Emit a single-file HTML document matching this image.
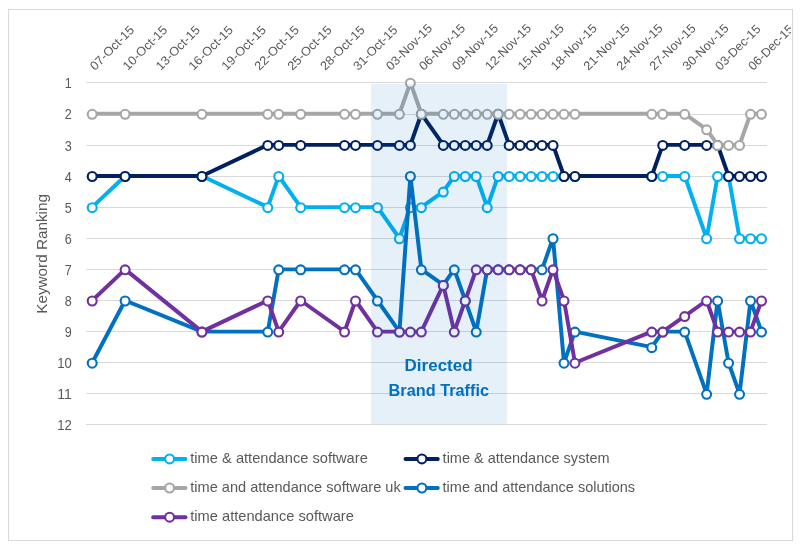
<!DOCTYPE html>
<html lang="en"><head><meta charset="utf-8"><title>Keyword Ranking</title>
<style>html,body{margin:0;padding:0;background:#fff}body{width:805px;height:550px;overflow:hidden}svg{display:block}text{font-family:"Liberation Sans",sans-serif}</style>
</head><body>
<svg width="805" height="550" viewBox="0 0 805 550">
<rect x="0" y="0" width="805" height="550" fill="#ffffff"/>
<defs><clipPath id="ca"><rect x="9" y="10" width="782" height="530"/></clipPath></defs>
<rect x="8.5" y="9.5" width="784" height="531" fill="#ffffff" stroke="#d9d9d9" stroke-width="1"/>
<g stroke="#d9d9d9" stroke-width="1" shape-rendering="crispEdges">
<line x1="86" y1="82.5" x2="767" y2="82.5"/>
<line x1="86" y1="114.0" x2="767" y2="114.0"/>
<line x1="86" y1="145.5" x2="767" y2="145.5"/>
<line x1="86" y1="176.5" x2="767" y2="176.5"/>
<line x1="86" y1="207.5" x2="767" y2="207.5"/>
<line x1="86" y1="238.5" x2="767" y2="238.5"/>
<line x1="86" y1="269.5" x2="767" y2="269.5"/>
<line x1="86" y1="300.5" x2="767" y2="300.5"/>
<line x1="86" y1="331.5" x2="767" y2="331.5"/>
<line x1="86" y1="362.5" x2="767" y2="362.5"/>
<line x1="86" y1="393.5" x2="767" y2="393.5"/>
<line x1="86" y1="424.5" x2="767" y2="424.5"/>
</g>
<g fill="#595959" font-size="14.6" text-anchor="end">
<text x="71.8" y="87.5" textLength="7.0" lengthAdjust="spacingAndGlyphs">1</text>
<text x="71.8" y="119.0" textLength="7.0" lengthAdjust="spacingAndGlyphs">2</text>
<text x="71.8" y="150.5" textLength="7.0" lengthAdjust="spacingAndGlyphs">3</text>
<text x="71.8" y="181.5" textLength="7.0" lengthAdjust="spacingAndGlyphs">4</text>
<text x="71.8" y="212.5" textLength="7.0" lengthAdjust="spacingAndGlyphs">5</text>
<text x="71.8" y="243.5" textLength="7.0" lengthAdjust="spacingAndGlyphs">6</text>
<text x="71.8" y="274.5" textLength="7.0" lengthAdjust="spacingAndGlyphs">7</text>
<text x="71.8" y="305.5" textLength="7.0" lengthAdjust="spacingAndGlyphs">8</text>
<text x="71.8" y="336.5" textLength="7.0" lengthAdjust="spacingAndGlyphs">9</text>
<text x="71.8" y="367.5" textLength="14.6" lengthAdjust="spacingAndGlyphs">10</text>
<text x="71.8" y="398.5" textLength="14.6" lengthAdjust="spacingAndGlyphs">11</text>
<text x="71.8" y="429.5" textLength="14.6" lengthAdjust="spacingAndGlyphs">12</text>
</g>
<text transform="translate(46.8,313.8) rotate(-90)" fill="#595959" font-size="14.6" textLength="119.8" lengthAdjust="spacingAndGlyphs">Keyword Ranking</text>
<g fill="#595959" font-size="12.4" clip-path="url(#ca)">
<text transform="translate(94.9,70.9) rotate(-45)" textLength="56.8" lengthAdjust="spacingAndGlyphs">07-Oct-15</text>
<text transform="translate(127.8,70.9) rotate(-45)" textLength="56.8" lengthAdjust="spacingAndGlyphs">10-Oct-15</text>
<text transform="translate(160.7,70.9) rotate(-45)" textLength="56.8" lengthAdjust="spacingAndGlyphs">13-Oct-15</text>
<text transform="translate(193.6,70.9) rotate(-45)" textLength="56.8" lengthAdjust="spacingAndGlyphs">16-Oct-15</text>
<text transform="translate(226.6,70.9) rotate(-45)" textLength="56.8" lengthAdjust="spacingAndGlyphs">19-Oct-15</text>
<text transform="translate(259.5,70.9) rotate(-45)" textLength="56.8" lengthAdjust="spacingAndGlyphs">22-Oct-15</text>
<text transform="translate(292.4,70.9) rotate(-45)" textLength="56.8" lengthAdjust="spacingAndGlyphs">25-Oct-15</text>
<text transform="translate(325.3,70.9) rotate(-45)" textLength="56.8" lengthAdjust="spacingAndGlyphs">28-Oct-15</text>
<text transform="translate(358.2,70.9) rotate(-45)" textLength="56.8" lengthAdjust="spacingAndGlyphs">31-Oct-15</text>
<text transform="translate(391.1,70.9) rotate(-45)" textLength="59.4" lengthAdjust="spacingAndGlyphs">03-Nov-15</text>
<text transform="translate(424.1,70.9) rotate(-45)" textLength="59.4" lengthAdjust="spacingAndGlyphs">06-Nov-15</text>
<text transform="translate(457.0,70.9) rotate(-45)" textLength="59.4" lengthAdjust="spacingAndGlyphs">09-Nov-15</text>
<text transform="translate(489.9,70.9) rotate(-45)" textLength="59.4" lengthAdjust="spacingAndGlyphs">12-Nov-15</text>
<text transform="translate(522.8,70.9) rotate(-45)" textLength="59.4" lengthAdjust="spacingAndGlyphs">15-Nov-15</text>
<text transform="translate(555.7,70.9) rotate(-45)" textLength="59.4" lengthAdjust="spacingAndGlyphs">18-Nov-15</text>
<text transform="translate(588.6,70.9) rotate(-45)" textLength="59.4" lengthAdjust="spacingAndGlyphs">21-Nov-15</text>
<text transform="translate(621.6,70.9) rotate(-45)" textLength="59.4" lengthAdjust="spacingAndGlyphs">24-Nov-15</text>
<text transform="translate(654.5,70.9) rotate(-45)" textLength="59.4" lengthAdjust="spacingAndGlyphs">27-Nov-15</text>
<text transform="translate(687.4,70.9) rotate(-45)" textLength="59.4" lengthAdjust="spacingAndGlyphs">30-Nov-15</text>
<text transform="translate(720.3,70.9) rotate(-45)" textLength="58.0" lengthAdjust="spacingAndGlyphs">03-Dec-15</text>
<text transform="translate(753.2,70.9) rotate(-45)" textLength="58.0" lengthAdjust="spacingAndGlyphs">06-Dec-15</text>
</g>
<g stroke="#00B0F0">
<polyline transform="translate(0,-0.5)" points="92.2,207.63 125.12,176.51 201.92,176.51 267.75,207.63 278.72,176.51 300.67,207.63 344.56,207.63 355.53,207.63 377.47,207.63 399.42,238.75 410.39,207.63 421.36,207.63 443.3,192.07 454.28,176.51 465.25,176.51 476.22,176.51 487.19,207.63 498.16,176.51 509.14,176.51 520.11,176.51 531.08,176.51 542.05,176.51 553.02,176.51 564.0,176.51 574.97,176.51 651.77,176.51 662.74,176.51 684.69,176.51 706.63,238.75 717.6,176.51 728.58,176.51 739.55,238.75 750.52,238.75 761.49,238.75" fill="none" stroke-width="3.95" stroke-linejoin="round" stroke-linecap="round"/>
<g fill="#ffffff" stroke-width="2.1">
<circle cx="92.2" cy="207.63" r="4.45"/>
<circle cx="125.12" cy="176.51" r="4.45"/>
<circle cx="201.92" cy="176.51" r="4.45"/>
<circle cx="267.75" cy="207.63" r="4.45"/>
<circle cx="278.72" cy="176.51" r="4.45"/>
<circle cx="300.67" cy="207.63" r="4.45"/>
<circle cx="344.56" cy="207.63" r="4.45"/>
<circle cx="355.53" cy="207.63" r="4.45"/>
<circle cx="377.47" cy="207.63" r="4.45"/>
<circle cx="399.42" cy="238.75" r="4.45"/>
<circle cx="410.39" cy="207.63" r="4.45"/>
<circle cx="421.36" cy="207.63" r="4.45"/>
<circle cx="443.3" cy="192.07" r="4.45"/>
<circle cx="454.28" cy="176.51" r="4.45"/>
<circle cx="465.25" cy="176.51" r="4.45"/>
<circle cx="476.22" cy="176.51" r="4.45"/>
<circle cx="487.19" cy="207.63" r="4.45"/>
<circle cx="498.16" cy="176.51" r="4.45"/>
<circle cx="509.14" cy="176.51" r="4.45"/>
<circle cx="520.11" cy="176.51" r="4.45"/>
<circle cx="531.08" cy="176.51" r="4.45"/>
<circle cx="542.05" cy="176.51" r="4.45"/>
<circle cx="553.02" cy="176.51" r="4.45"/>
<circle cx="564.0" cy="176.51" r="4.45"/>
<circle cx="574.97" cy="176.51" r="4.45"/>
<circle cx="651.77" cy="176.51" r="4.45"/>
<circle cx="662.74" cy="176.51" r="4.45"/>
<circle cx="684.69" cy="176.51" r="4.45"/>
<circle cx="706.63" cy="238.75" r="4.45"/>
<circle cx="717.6" cy="176.51" r="4.45"/>
<circle cx="728.58" cy="176.51" r="4.45"/>
<circle cx="739.55" cy="238.75" r="4.45"/>
<circle cx="750.52" cy="238.75" r="4.45"/>
<circle cx="761.49" cy="238.75" r="4.45"/>
</g></g>
<g stroke="#002060">
<polyline transform="translate(0,-0.5)" points="92.2,176.51 125.12,176.51 201.92,176.51 267.75,145.39 278.72,145.39 300.67,145.39 344.56,145.39 355.53,145.39 377.47,145.39 399.42,145.39 410.39,145.39 421.36,114.27 443.3,145.39 454.28,145.39 465.25,145.39 476.22,145.39 487.19,145.39 498.16,114.27 509.14,145.39 520.11,145.39 531.08,145.39 542.05,145.39 553.02,145.39 564.0,176.51 574.97,176.51 651.77,176.51 662.74,145.39 684.69,145.39 706.63,145.39 717.6,145.39 728.58,176.51 739.55,176.51 750.52,176.51 761.49,176.51" fill="none" stroke-width="3.95" stroke-linejoin="round" stroke-linecap="round"/>
<g fill="#ffffff" stroke-width="2.1">
<circle cx="92.2" cy="176.51" r="4.45"/>
<circle cx="125.12" cy="176.51" r="4.45"/>
<circle cx="201.92" cy="176.51" r="4.45"/>
<circle cx="267.75" cy="145.39" r="4.45"/>
<circle cx="278.72" cy="145.39" r="4.45"/>
<circle cx="300.67" cy="145.39" r="4.45"/>
<circle cx="344.56" cy="145.39" r="4.45"/>
<circle cx="355.53" cy="145.39" r="4.45"/>
<circle cx="377.47" cy="145.39" r="4.45"/>
<circle cx="399.42" cy="145.39" r="4.45"/>
<circle cx="410.39" cy="145.39" r="4.45"/>
<circle cx="421.36" cy="114.27" r="4.45"/>
<circle cx="443.3" cy="145.39" r="4.45"/>
<circle cx="454.28" cy="145.39" r="4.45"/>
<circle cx="465.25" cy="145.39" r="4.45"/>
<circle cx="476.22" cy="145.39" r="4.45"/>
<circle cx="487.19" cy="145.39" r="4.45"/>
<circle cx="498.16" cy="114.27" r="4.45"/>
<circle cx="509.14" cy="145.39" r="4.45"/>
<circle cx="520.11" cy="145.39" r="4.45"/>
<circle cx="531.08" cy="145.39" r="4.45"/>
<circle cx="542.05" cy="145.39" r="4.45"/>
<circle cx="553.02" cy="145.39" r="4.45"/>
<circle cx="564.0" cy="176.51" r="4.45"/>
<circle cx="574.97" cy="176.51" r="4.45"/>
<circle cx="651.77" cy="176.51" r="4.45"/>
<circle cx="662.74" cy="145.39" r="4.45"/>
<circle cx="684.69" cy="145.39" r="4.45"/>
<circle cx="706.63" cy="145.39" r="4.45"/>
<circle cx="717.6" cy="145.39" r="4.45"/>
<circle cx="728.58" cy="176.51" r="4.45"/>
<circle cx="739.55" cy="176.51" r="4.45"/>
<circle cx="750.52" cy="176.51" r="4.45"/>
<circle cx="761.49" cy="176.51" r="4.45"/>
</g></g>
<g stroke="#A6A6A6">
<polyline transform="translate(0,-0.5)" points="92.2,114.27 125.12,114.27 201.92,114.27 267.75,114.27 278.72,114.27 300.67,114.27 344.56,114.27 355.53,114.27 377.47,114.27 399.42,114.27 410.39,83.15 421.36,114.27 443.3,114.27 454.28,114.27 465.25,114.27 476.22,114.27 487.19,114.27 498.16,114.27 509.14,114.27 520.11,114.27 531.08,114.27 542.05,114.27 553.02,114.27 564.0,114.27 574.97,114.27 651.77,114.27 662.74,114.27 684.69,114.27 706.63,129.83 717.6,145.39 728.58,145.39 739.55,145.39 750.52,114.27 761.49,114.27" fill="none" stroke-width="3.95" stroke-linejoin="round" stroke-linecap="round"/>
<g fill="#ffffff" stroke-width="2.1">
<circle cx="92.2" cy="114.27" r="4.45"/>
<circle cx="125.12" cy="114.27" r="4.45"/>
<circle cx="201.92" cy="114.27" r="4.45"/>
<circle cx="267.75" cy="114.27" r="4.45"/>
<circle cx="278.72" cy="114.27" r="4.45"/>
<circle cx="300.67" cy="114.27" r="4.45"/>
<circle cx="344.56" cy="114.27" r="4.45"/>
<circle cx="355.53" cy="114.27" r="4.45"/>
<circle cx="377.47" cy="114.27" r="4.45"/>
<circle cx="399.42" cy="114.27" r="4.45"/>
<circle cx="410.39" cy="83.15" r="4.45"/>
<circle cx="421.36" cy="114.27" r="4.45"/>
<circle cx="443.3" cy="114.27" r="4.45"/>
<circle cx="454.28" cy="114.27" r="4.45"/>
<circle cx="465.25" cy="114.27" r="4.45"/>
<circle cx="476.22" cy="114.27" r="4.45"/>
<circle cx="487.19" cy="114.27" r="4.45"/>
<circle cx="498.16" cy="114.27" r="4.45"/>
<circle cx="509.14" cy="114.27" r="4.45"/>
<circle cx="520.11" cy="114.27" r="4.45"/>
<circle cx="531.08" cy="114.27" r="4.45"/>
<circle cx="542.05" cy="114.27" r="4.45"/>
<circle cx="553.02" cy="114.27" r="4.45"/>
<circle cx="564.0" cy="114.27" r="4.45"/>
<circle cx="574.97" cy="114.27" r="4.45"/>
<circle cx="651.77" cy="114.27" r="4.45"/>
<circle cx="662.74" cy="114.27" r="4.45"/>
<circle cx="684.69" cy="114.27" r="4.45"/>
<circle cx="706.63" cy="129.83" r="4.45"/>
<circle cx="717.6" cy="145.39" r="4.45"/>
<circle cx="728.58" cy="145.39" r="4.45"/>
<circle cx="739.55" cy="145.39" r="4.45"/>
<circle cx="750.52" cy="114.27" r="4.45"/>
<circle cx="761.49" cy="114.27" r="4.45"/>
</g></g>
<g stroke="#0070C0">
<polyline transform="translate(0,-0.5)" points="92.2,363.23 125.12,300.99 201.92,332.11 267.75,332.11 278.72,269.87 300.67,269.87 344.56,269.87 355.53,269.87 377.47,300.99 399.42,332.11 410.39,176.51 421.36,269.87 443.3,285.43 454.28,269.87 465.25,300.99 476.22,332.11 487.19,269.87 498.16,269.87 509.14,269.87 520.11,269.87 531.08,269.87 542.05,269.87 553.02,238.75 564.0,363.23 574.97,332.11 651.77,347.67 662.74,332.11 684.69,332.11 706.63,394.35 717.6,300.99 728.58,363.23 739.55,394.35 750.52,300.99 761.49,332.11" fill="none" stroke-width="3.95" stroke-linejoin="round" stroke-linecap="round"/>
<g fill="#ffffff" stroke-width="2.1">
<circle cx="92.2" cy="363.23" r="4.45"/>
<circle cx="125.12" cy="300.99" r="4.45"/>
<circle cx="201.92" cy="332.11" r="4.45"/>
<circle cx="267.75" cy="332.11" r="4.45"/>
<circle cx="278.72" cy="269.87" r="4.45"/>
<circle cx="300.67" cy="269.87" r="4.45"/>
<circle cx="344.56" cy="269.87" r="4.45"/>
<circle cx="355.53" cy="269.87" r="4.45"/>
<circle cx="377.47" cy="300.99" r="4.45"/>
<circle cx="399.42" cy="332.11" r="4.45"/>
<circle cx="410.39" cy="176.51" r="4.45"/>
<circle cx="421.36" cy="269.87" r="4.45"/>
<circle cx="443.3" cy="285.43" r="4.45"/>
<circle cx="454.28" cy="269.87" r="4.45"/>
<circle cx="465.25" cy="300.99" r="4.45"/>
<circle cx="476.22" cy="332.11" r="4.45"/>
<circle cx="487.19" cy="269.87" r="4.45"/>
<circle cx="498.16" cy="269.87" r="4.45"/>
<circle cx="509.14" cy="269.87" r="4.45"/>
<circle cx="520.11" cy="269.87" r="4.45"/>
<circle cx="531.08" cy="269.87" r="4.45"/>
<circle cx="542.05" cy="269.87" r="4.45"/>
<circle cx="553.02" cy="238.75" r="4.45"/>
<circle cx="564.0" cy="363.23" r="4.45"/>
<circle cx="574.97" cy="332.11" r="4.45"/>
<circle cx="651.77" cy="347.67" r="4.45"/>
<circle cx="662.74" cy="332.11" r="4.45"/>
<circle cx="684.69" cy="332.11" r="4.45"/>
<circle cx="706.63" cy="394.35" r="4.45"/>
<circle cx="717.6" cy="300.99" r="4.45"/>
<circle cx="728.58" cy="363.23" r="4.45"/>
<circle cx="739.55" cy="394.35" r="4.45"/>
<circle cx="750.52" cy="300.99" r="4.45"/>
<circle cx="761.49" cy="332.11" r="4.45"/>
</g></g>
<g stroke="#7030A0">
<polyline transform="translate(0,-0.5)" points="92.2,300.99 125.12,269.87 201.92,332.11 267.75,300.99 278.72,332.11 300.67,300.99 344.56,332.11 355.53,300.99 377.47,332.11 399.42,332.11 410.39,332.11 421.36,332.11 443.3,285.43 454.28,332.11 465.25,300.99 476.22,269.87 487.19,269.87 498.16,269.87 509.14,269.87 520.11,269.87 531.08,269.87 542.05,300.99 553.02,269.87 564.0,300.99 574.97,363.23 651.77,332.11 662.74,332.11 684.69,316.55 706.63,300.99 717.6,332.11 728.58,332.11 739.55,332.11 750.52,332.11 761.49,300.99" fill="none" stroke-width="3.95" stroke-linejoin="round" stroke-linecap="round"/>
<g fill="#ffffff" stroke-width="2.1">
<circle cx="92.2" cy="300.99" r="4.45"/>
<circle cx="125.12" cy="269.87" r="4.45"/>
<circle cx="201.92" cy="332.11" r="4.45"/>
<circle cx="267.75" cy="300.99" r="4.45"/>
<circle cx="278.72" cy="332.11" r="4.45"/>
<circle cx="300.67" cy="300.99" r="4.45"/>
<circle cx="344.56" cy="332.11" r="4.45"/>
<circle cx="355.53" cy="300.99" r="4.45"/>
<circle cx="377.47" cy="332.11" r="4.45"/>
<circle cx="399.42" cy="332.11" r="4.45"/>
<circle cx="410.39" cy="332.11" r="4.45"/>
<circle cx="421.36" cy="332.11" r="4.45"/>
<circle cx="443.3" cy="285.43" r="4.45"/>
<circle cx="454.28" cy="332.11" r="4.45"/>
<circle cx="465.25" cy="300.99" r="4.45"/>
<circle cx="476.22" cy="269.87" r="4.45"/>
<circle cx="487.19" cy="269.87" r="4.45"/>
<circle cx="498.16" cy="269.87" r="4.45"/>
<circle cx="509.14" cy="269.87" r="4.45"/>
<circle cx="520.11" cy="269.87" r="4.45"/>
<circle cx="531.08" cy="269.87" r="4.45"/>
<circle cx="542.05" cy="300.99" r="4.45"/>
<circle cx="553.02" cy="269.87" r="4.45"/>
<circle cx="564.0" cy="300.99" r="4.45"/>
<circle cx="574.97" cy="363.23" r="4.45"/>
<circle cx="651.77" cy="332.11" r="4.45"/>
<circle cx="662.74" cy="332.11" r="4.45"/>
<circle cx="684.69" cy="316.55" r="4.45"/>
<circle cx="706.63" cy="300.99" r="4.45"/>
<circle cx="717.6" cy="332.11" r="4.45"/>
<circle cx="728.58" cy="332.11" r="4.45"/>
<circle cx="739.55" cy="332.11" r="4.45"/>
<circle cx="750.52" cy="332.11" r="4.45"/>
<circle cx="761.49" cy="300.99" r="4.45"/>
</g></g>
<rect x="371" y="84" width="136" height="340" fill="#0070C0" fill-opacity="0.10"/>
<g fill="#0070C0" font-weight="bold" font-size="16.6" text-anchor="middle">
<text x="438.6" y="371" textLength="68" lengthAdjust="spacingAndGlyphs">Directed</text>
<text x="438.8" y="395.6" textLength="100.4" lengthAdjust="spacingAndGlyphs">Brand Traffic</text>
</g>
<g stroke="#00B0F0"><line x1="153.2" y1="458.9" x2="185.5" y2="458.9" stroke-width="3.95" stroke-linecap="round"/>
<circle cx="169.6" cy="458.9" r="4.45" fill="#ffffff" stroke-width="2.1"/></g>
<text x="190.3" y="462.7" fill="#595959" font-size="14.6" textLength="177.5" lengthAdjust="spacingAndGlyphs">time &amp; attendance software</text>
<g stroke="#002060"><line x1="405.5" y1="458.9" x2="437.79999999999995" y2="458.9" stroke-width="3.95" stroke-linecap="round"/>
<circle cx="421.9" cy="458.9" r="4.45" fill="#ffffff" stroke-width="2.1"/></g>
<text x="442.6" y="462.7" fill="#595959" font-size="14.6" textLength="167.0" lengthAdjust="spacingAndGlyphs">time &amp; attendance system</text>
<g stroke="#A6A6A6"><line x1="153.2" y1="488.0" x2="185.5" y2="488.0" stroke-width="3.95" stroke-linecap="round"/>
<circle cx="169.6" cy="488.0" r="4.45" fill="#ffffff" stroke-width="2.1"/></g>
<text x="190.3" y="491.8" fill="#595959" font-size="14.6" textLength="210.4" lengthAdjust="spacingAndGlyphs">time and attendance software uk</text>
<g stroke="#0070C0"><line x1="405.5" y1="488.0" x2="437.79999999999995" y2="488.0" stroke-width="3.95" stroke-linecap="round"/>
<circle cx="421.9" cy="488.0" r="4.45" fill="#ffffff" stroke-width="2.1"/></g>
<text x="442.6" y="491.8" fill="#595959" font-size="14.6" textLength="192.5" lengthAdjust="spacingAndGlyphs">time and attendance solutions</text>
<g stroke="#7030A0"><line x1="153.2" y1="517.2" x2="185.5" y2="517.2" stroke-width="3.95" stroke-linecap="round"/>
<circle cx="169.6" cy="517.2" r="4.45" fill="#ffffff" stroke-width="2.1"/></g>
<text x="190.3" y="521.0" fill="#595959" font-size="14.6" textLength="163.5" lengthAdjust="spacingAndGlyphs">time attendance software</text>
</svg>
</body></html>
